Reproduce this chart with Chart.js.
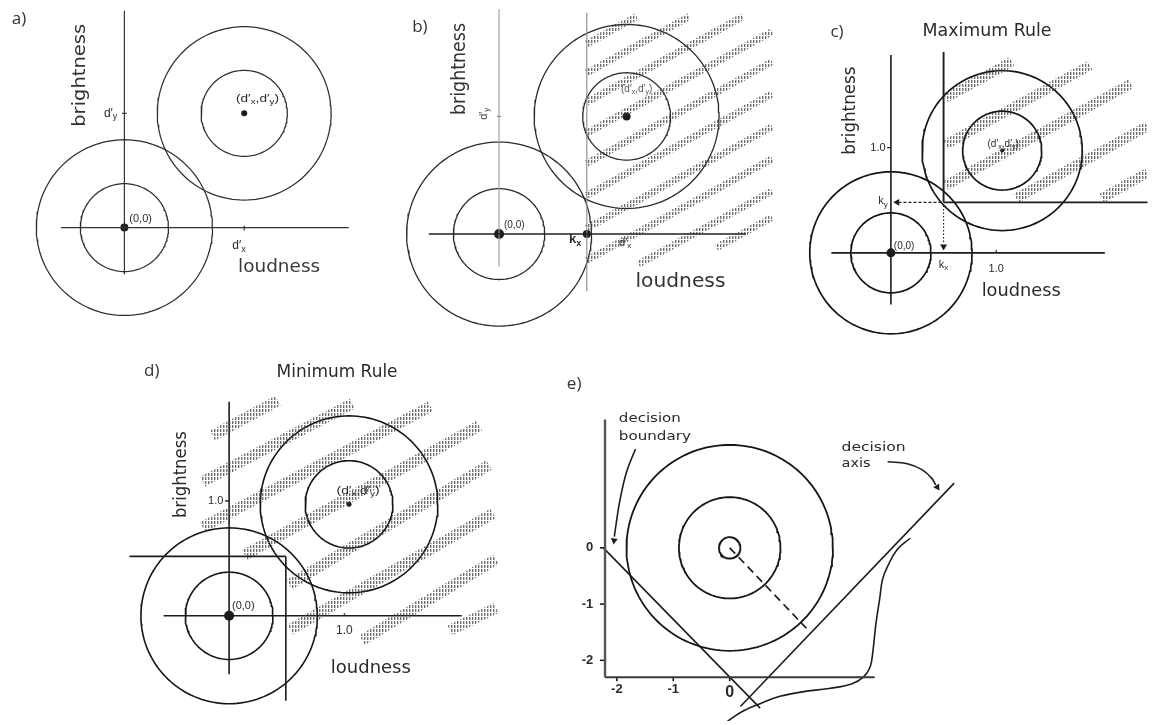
<!DOCTYPE html>
<html>
<head>
<meta charset="utf-8">
<script src="https://cdn.jsdelivr.net/npm/chart.js@4.4.1/dist/chart.umd.min.js"></script>
<style>
  html, body { margin: 0; padding: 0; background: #fff; }
  #page { position: relative; width: 1152px; height: 725px; overflow: hidden; background: #fff; }
  #page canvas { position: absolute; }
</style>
</head>
<body>
<div id="page">
  <canvas id="panelA"></canvas>
  <canvas id="panelB"></canvas>
  <canvas id="panelC"></canvas>
  <canvas id="panelD"></canvas>
  <canvas id="panelE"></canvas>
</div>
<script>
// ---------------- data (units: d' scale for a-d, z-scores for e) ----------------

// a) two bivariate normal distributions, inner/outer equal-likelihood contours
const aCenters = [[0, 0], [1.02, 0.975]];
const aRadii = [[0.375, 0.75], [0.367, 0.74]];
const aLoudAxis = [-0.54, 1.91];
const aBrightAxis = [-0.40, 1.85];

// b) single criterion on loudness (k_x); shaded "signal" response region
const bCenters = [[0, 0], [1.09, 1.01]];
const bRadii = [[0.39, 0.79], [0.375, 0.79]];
const bLoudAxis = [-0.60, 2.11];
const bBrightAxis = [-0.28, 1.93];
const bCriterionX = 0.75;
const bCriterionSpan = [-0.49, 1.90];
const bStripes = [
  [0.75, 1.633, 1.175, 1.867],
  [0.75, 1.383, 1.625, 1.867],
  [0.75, 1.133, 2.083, 1.867],
  [0.75, 0.867, 2.333, 1.738],
  [0.75, 0.608, 2.333, 1.479],
  [0.75, 0.333, 2.333, 1.204],
  [0.75, 0.050, 2.333, 0.921],
  [0.75, -0.225, 2.333, 0.646],
  [1.192, -0.258, 2.333, 0.370],
  [1.858, -0.117, 2.333, 0.144]
];

// c) maximum rule: respond "signal" only when both k_x and k_y are exceeded
const cCenters = [[0, 0], [1.056, 0.972]];
const cRadii = [[0.38, 0.77], [0.375, 0.76]];
const cLoudAxis = [-0.565, 2.03];
const cBrightAxis = [-0.49, 1.88];
const cKx = 0.5;
const cKy = 0.48;
const cRuleTop = 1.91;
const cRuleRight = 2.45;
const cTickValues = [1.0];
const cStripes = [
  [0.52, 1.474, 1.148, 1.819],
  [0.52, 1.030, 1.889, 1.783],
  [0.52, 0.641, 2.278, 1.608],
  [1.19, 0.520, 2.435, 1.204],
  [2.00, 0.520, 2.435, 0.761]
];

// d) minimum rule: respond "signal" when either criterion is exceeded
const dCenters = [[0, 0], [1.04, 0.97]];
const dRadii = [[0.38, 0.765], [0.38, 0.77]];
const dLoudAxis = [-0.568, 2.017];
const dBrightAxis = [-0.508, 1.864];
const dMinX = 0.492;
const dMinY = 0.517;
const dRuleLeft = -0.864;
const dRuleBottom = -0.74;
const dTickValues = [1.0];
const dStripes = [
  [-0.144, 1.568, 0.424, 1.873],
  [-0.229, 1.169, 1.068, 1.847],
  [-0.229, 0.771, 1.746, 1.822],
  [0.136, 0.530, 2.169, 1.653],
  [0.520, 0.270, 2.254, 1.314],
  [0.530, -0.120, 2.288, 0.890],
  [1.153, -0.212, 2.314, 0.492],
  [1.915, -0.127, 2.314, 0.068]
];

// e) linear decision boundary, decision axis and projected distribution
const eCenter = [0, 0];
const eRadii = [0.19, 0.9, 1.83];
const eXTicks = [-2, -1, 0];
const eYTicks = [0, -1, -2];
const eAxisXPos = -2.21;
const eAxisYPos = -2.30;
const eAxisXEnd = 2.57;
const eAxisYEnd = 2.28;
const eBoundary = [[-2.24, 0.0], [0.54, -2.85]];
const eDecisionAxis = [[0.19, -2.82], [3.98, 1.15]];
const eProjection = [[0, 0], [1.36, -1.43]];
const eDistribution = [
  [3.20, 0.17], [2.97, -0.03], [2.80, -0.33], [2.71, -0.56], [2.66, -0.90],
  [2.59, -1.37], [2.54, -1.83], [2.49, -2.12], [2.37, -2.30], [2.16, -2.42],
  [1.76, -2.50], [1.29, -2.56], [0.89, -2.64], [0.54, -2.77], [0.24, -2.90],
  [0.02, -3.04], [-0.08, -3.12]
];
const eBoundaryArrow = [[-1.670, 1.757], [-1.826, 1.357], [-1.948, 0.835], [-2.017, 0.40], [-2.045, 0.20]];
const eAxisArrow = [[2.80, 1.53], [3.148, 1.496], [3.409, 1.391], [3.583, 1.235], [3.65, 1.12]];

// ---------------- helpers ----------------
const INK = '#1c1c1c';
const FONT = '"DejaVu Sans", sans-serif';
const SMALL = '"Liberation Sans", Arial, sans-serif';
const TAG = '"Open Sans", sans-serif';

function circlePts(c, r, n = 140) {
  const pts = [];
  for (let i = 0; i <= n; i++) {
    const t = (i / n) * 2 * Math.PI;
    pts.push({ x: c[0] + r * Math.cos(t), y: c[1] + r * Math.sin(t) });
  }
  return pts;
}

function line(points, o = {}) {
  return {
    data: points.map(p => Array.isArray(p) ? { x: p[0], y: p[1] } : p),
    showLine: true,
    pointRadius: 0,
    pointHoverRadius: 0,
    borderColor: o.color || INK,
    borderWidth: o.width || 1.4,
    borderDash: o.dash || [],
    borderCapStyle: o.cap || 'butt',
    tension: o.tension || 0,
    fill: false
  };
}

function dots(points, r, color) {
  return {
    data: points.map(p => ({ x: p[0], y: p[1] })),
    showLine: false,
    pointRadius: r,
    pointHoverRadius: r,
    pointBackgroundColor: color || INK,
    pointBorderColor: color || INK,
    pointBorderWidth: 0
  };
}

function arrowHead(tip, from, r) {
  const rot = Math.atan2(tip[0] - from[0], tip[1] - from[1]) * 180 / Math.PI;
  return {
    data: [{ x: tip[0], y: tip[1] }],
    showLine: false,
    pointStyle: 'triangle',
    pointRadius: r,
    pointHoverRadius: r,
    rotation: rot,
    pointBackgroundColor: INK,
    pointBorderColor: INK,
    pointBorderWidth: 0
  };
}

// short vertical strokes used for the shaded response regions
const hatchTile = document.createElement('canvas');
hatchTile.width = 3;
hatchTile.height = 4;
(function () {
  const g = hatchTile.getContext('2d');
  g.fillStyle = 'rgba(55,55,55,0.72)';
  g.fillRect(0, 0, 1.4, 3);
})();

function stripes(list, width) {
  return list.map(s => ({
    data: [{ x: s[0], y: s[1] }, { x: s[2], y: s[3] }],
    showLine: true,
    pointRadius: 0,
    pointHoverRadius: 0,
    borderWidth: width,
    borderCapStyle: 'butt',
    borderColor: ctx => ctx.chart.ctx.createPattern(hatchTile, 'repeat'),
    fill: false
  }));
}

function contours(centers, radii, width, color) {
  const out = [];
  centers.forEach((c, i) => radii[i].forEach(r => out.push(line(circlePts(c, r), { width, color }))));
  return out;
}

function parseRich(str) {
  const out = [];
  const re = /\{([^}]*)\}/g;
  let last = 0, m;
  while ((m = re.exec(str))) {
    if (m.index > last) out.push({ t: str.slice(last, m.index), sub: false });
    out.push({ t: m[1], sub: true });
    last = re.lastIndex;
  }
  if (last < str.length) out.push({ t: str.slice(last), sub: false });
  return out;
}

function labelPlugin(labels) {
  return {
    id: 'panelText',
    afterDatasetsDraw(chart) {
      const ctx = chart.ctx, sx = chart.scales.x, sy = chart.scales.y;
      for (const l of labels) {
        const segs = parseRich(l.text);
        const size = l.size || 12;
        const fam = l.family || FONT;
        const wt = l.weight || 'normal';
        const fontFor = s => `${wt} ${s.sub ? Math.round(size * 0.72) : size}px ${fam}`;
        ctx.save();
        ctx.translate(sx.getPixelForValue(l.x), sy.getPixelForValue(l.y));
        if (l.rot) ctx.rotate(l.rot * Math.PI / 180);
        let total = 0;
        segs.forEach(s => { ctx.font = fontFor(s); s.w = ctx.measureText(s.t).width; total += s.w; });
        if (l.w) ctx.scale(l.w / total, 1);
        let x0 = l.align === 'left' ? 0 : l.align === 'right' ? -total : -total / 2;
        ctx.fillStyle = l.color || '#2a2a2a';
        ctx.textBaseline = 'middle';
        ctx.textAlign = 'left';
        for (const s of segs) {
          ctx.font = fontFor(s);
          ctx.fillText(s.t, x0, s.sub ? size * 0.3 : 0);
          x0 += s.w;
        }
        ctx.restore();
      }
    }
  };
}

function makePanel(id, box, origin, unit, datasets, labels) {
  const cv = document.getElementById(id);
  cv.width = box.w;
  cv.height = box.h;
  cv.style.left = box.left + 'px';
  cv.style.top = box.top + 'px';
  const ox = origin[0] - box.left, oy = origin[1] - box.top;
  return new Chart(cv, {
    type: 'scatter',
    data: { datasets },
    options: {
      responsive: false,
      animation: false,
      devicePixelRatio: 1,
      events: [],
      layout: { padding: 0 },
      plugins: { legend: { display: false }, tooltip: { enabled: false } },
      scales: {
        x: { type: 'linear', display: false, min: -ox / unit, max: (box.w - ox) / unit },
        y: { type: 'linear', display: false, min: -(box.h - oy) / unit, max: oy / unit }
      }
    },
    plugins: [labelPlugin(labels)]
  });
}

// ---------------- panel a ----------------
makePanel('panelA', { left: 0, top: 0, w: 378, h: 340 }, [123, 229], 120, [
  line([[aLoudAxis[0], 0], [aLoudAxis[1], 0]], { width: 1.2, color: '#333' }),
  line([[0, aBrightAxis[0]], [0, aBrightAxis[1]]], { width: 1.2, color: '#333' }),
  line([[-0.02, aCenters[1][1]], [0.02, aCenters[1][1]]], { width: 1.2, color: '#333' }),
  line([[aCenters[1][0], -0.025], [aCenters[1][0], 0.015]], { width: 1.2, color: '#333' }),
  ...contours(aCenters, aRadii, 1.25, '#2e2e2e'),
  dots([aCenters[0]], 4),
  dots([aCenters[1]], 3)
], [
  { text: 'a)', x: -0.958, y: 1.783, size: 17, align: 'left', family: TAG, color: '#333' },
  { text: 'brightness', x: -0.375, y: 1.30, rot: -90, size: 17, w: 103, color: '#333' },
  { text: 'd′{y}', x: -0.06, y: 0.975, size: 12, align: 'right', family: SMALL },
  { text: '(0,0)', x: 0.042, y: 0.075, size: 11, align: 'left', family: SMALL },
  { text: '(d′{x},d′{y})', x: 0.95, y: 1.10, size: 11, align: 'left', w: 43, family: SMALL },
  { text: 'd′{x}', x: 0.975, y: -0.158, size: 12, family: SMALL },
  { text: 'loudness', x: 1.317, y: -0.342, size: 17, w: 82, color: '#3a3a3a' }
]);

// ---------------- panel b ----------------
makePanel('panelB', { left: 378, top: 0, w: 404, h: 340 }, [497, 236], 120, [
  ...stripes(bStripes, 7),
  line([[bLoudAxis[0], 0], [bLoudAxis[1], 0]], { width: 1.6, color: '#222' }),
  line([[0, bBrightAxis[0]], [0, bBrightAxis[1]]], { width: 1.1, color: '#9a9a9a' }),
  line([[bCriterionX, bCriterionSpan[0]], [bCriterionX, bCriterionSpan[1]]], { width: 1.1, color: '#8a8a8a' }),
  line([[-0.015, bCenters[1][1]], [0.015, bCenters[1][1]]], { width: 1.2, color: '#777' }),
  ...contours(bCenters, bRadii, 1.3, '#2a2a2a'),
  dots([bCenters[0]], 5),
  dots([bCenters[1]], 4),
  dots([[bCriterionX, 0]], 4)
], [
  { text: 'b)', x: -0.742, y: 1.775, size: 17, align: 'left', family: TAG, color: '#333' },
  { text: 'brightness', x: -0.333, y: 1.417, rot: -90, size: 19, w: 92, color: '#333' },
  { text: 'd′{y}', x: -0.133, y: 1.033, rot: -90, size: 11, family: SMALL, color: '#444' },
  { text: '(0,0)', x: 0.042, y: 0.075, size: 10, align: 'left', family: SMALL },
  { text: 'k{x}', x: 0.65, y: -0.05, size: 13, weight: 'bold', family: SMALL },
  { text: 'd′{x}', x: 1.025, y: -0.075, size: 11, align: 'left', family: SMALL },
  { text: '(d′{x},d′{y})', x: 1.042, y: 1.242, size: 10, align: 'left', family: SMALL, color: '#555' },
  { text: 'loudness', x: 1.55, y: -0.408, size: 19, w: 90, color: '#333' }
]);

// ---------------- panel c ----------------
makePanel('panelC', { left: 782, top: 0, w: 370, h: 345 }, [889, 255], 108, [
  ...stripes(cStripes, 10),
  line([[cLoudAxis[0], 0], [cLoudAxis[1], 0]], { width: 1.6 }),
  line([[0, cBrightAxis[0]], [0, cBrightAxis[1]]], { width: 1.6 }),
  ...cTickValues.map(v => line([[-0.035, v], [0, v]], { width: 1.4 })),
  ...cTickValues.map(v => line([[v, 0], [v, 0.03]], { width: 1.4, color: '#555' })),
  line([[cKx, cKy], [cKx, cRuleTop]], { width: 1.9 }),
  line([[cKx, cKy], [cRuleRight, cKy]], { width: 1.9 }),
  line([[cKx - 0.02, cKy], [0.08, cKy]], { width: 1.2, dash: [3, 2] }),
  arrowHead([0.06, cKy], [cKx, cKy], 4),
  line([[cKx, cKy - 0.03], [cKx, 0.09]], { width: 1.1, dash: [1.5, 2] }),
  arrowHead([cKx, 0.06], [cKx, cKy], 4),
  ...contours(cCenters, cRadii, 1.7, '#151515'),
  dots([cCenters[0]], 4.5),
  dots([cCenters[1]], 2)
], [
  { text: 'c)', x: -0.574, y: 2.102, size: 17, align: 'left', family: TAG, color: '#333' },
  { text: 'Maximum Rule', x: 0.912, y: 2.102, size: 17, w: 129, color: '#2a2a2a' },
  { text: 'brightness', x: -0.38, y: 1.352, rot: -90, size: 17, w: 88 },
  { text: '1.0', x: -0.05, y: 1.0, size: 11, align: 'right', family: SMALL },
  { text: 'k{y}', x: -0.03, y: 0.49, size: 11, align: 'right', family: SMALL },
  { text: '(0,0)', x: 0.028, y: 0.065, size: 10, align: 'left', family: SMALL },
  { text: 'k{x}', x: 0.5, y: -0.111, size: 11, family: SMALL },
  { text: '1.0', x: 1.0, y: -0.157, size: 11, family: SMALL },
  { text: 'loudness', x: 1.236, y: -0.37, size: 17, w: 79 },
  { text: '(d′{x},d′{y})', x: 0.917, y: 1.037, size: 10, align: 'left', family: SMALL }
]);

// ---------------- panel d ----------------
makePanel('panelD', { left: 100, top: 345, w: 440, h: 380 }, [227, 618], 118, [
  ...stripes(dStripes, 11),
  line([[dLoudAxis[0], 0], [dLoudAxis[1], 0]], { width: 1.6 }),
  line([[0, dBrightAxis[0]], [0, dBrightAxis[1]]], { width: 1.6 }),
  ...dTickValues.map(v => line([[-0.035, v], [0, v]], { width: 1.4 })),
  ...dTickValues.map(v => line([[v, 0], [v, 0.025]], { width: 1.4, color: '#555' })),
  line([[dRuleLeft, dMinY], [dMinX, dMinY]], { width: 1.6 }),
  line([[dMinX, dMinY], [dMinX, dRuleBottom]], { width: 1.6 }),
  ...contours(dCenters, dRadii, 1.6, '#151515'),
  dots([dCenters[0]], 5),
  dots([dCenters[1]], 2.5)
], [
  { text: 'd)', x: -0.737, y: 2.127, size: 17, align: 'left', family: TAG, color: '#333' },
  { text: 'Minimum Rule', x: 0.936, y: 2.119, size: 17, w: 121, color: '#2a2a2a' },
  { text: 'brightness', x: -0.415, y: 1.229, rot: -90, size: 17, w: 87 },
  { text: '1.0', x: -0.05, y: 1.0, size: 11, align: 'right', family: SMALL },
  { text: '(0,0)', x: 0.025, y: 0.085, size: 11, align: 'left', family: SMALL },
  { text: '1.0', x: 1.0, y: -0.127, size: 12, family: SMALL },
  { text: 'loudness', x: 1.229, y: -0.458, size: 17, w: 80 },
  { text: '(d′{x},d′{y})', x: 0.932, y: 1.085, size: 10, align: 'left', w: 43, family: SMALL }
]);

// ---------------- panel e ----------------
const ePrev = a => a[a.length - 2];
makePanel('panelE', { left: 555, top: 355, w: 420, h: 370 }, [729, 548], 57.5, [
  line([[eAxisXPos, eAxisYPos], [eAxisXPos, eAxisYEnd]], { width: 2.4, color: '#555' }),
  line([[eAxisXPos, eAxisYPos], [eAxisXEnd, eAxisYPos]], { width: 2, color: '#3a3a3a' }),
  ...eYTicks.map(v => line([[eAxisXPos - 0.09, v], [eAxisXPos, v]], { width: 1.6 })),
  ...eXTicks.map(v => line([[v, eAxisYPos], [v, eAxisYPos - 0.07]], { width: 1.6 })),
  ...eRadii.map(r => line(circlePts(eCenter, r), { width: 1.8, color: '#161616' })),
  line(eProjection, { width: 1.7, dash: [8, 5] }),
  line(eBoundary, { width: 1.6 }),
  line(eDecisionAxis, { width: 1.6 }),
  line(eDistribution, { width: 1.6, tension: 0.4 }),
  line(eBoundaryArrow, { width: 1.6, tension: 0.4 }),
  arrowHead([-2.05, 0.13], ePrev(eBoundaryArrow), 4),
  line(eAxisArrow, { width: 1.6, tension: 0.4 }),
  arrowHead([3.68, 1.08], ePrev(eAxisArrow), 4)
], [
  { text: 'e)', x: -2.887, y: 2.904, size: 17, align: 'left', family: TAG, color: '#333' },
  { text: 'decision', x: -1.965, y: 2.296, size: 13, align: 'left', w: 62 },
  { text: 'boundary', x: -1.965, y: 1.983, size: 13, align: 'left', w: 72 },
  { text: 'decision', x: 1.983, y: 1.774, size: 13, align: 'left', w: 64 },
  { text: 'axis', x: 1.983, y: 1.496, size: 13, align: 'left', w: 29 },
  ...eYTicks.map(v => ({ text: String(v), x: -2.42, y: v, size: 13, align: 'right', weight: 'bold', family: SMALL })),
  ...eXTicks.map(v => ({ text: String(v), x: v, y: v === 0 ? -2.57 : -2.52, size: v === 0 ? 16 : 13, weight: 'bold', family: SMALL }))
]);
</script>
</body>
</html>
